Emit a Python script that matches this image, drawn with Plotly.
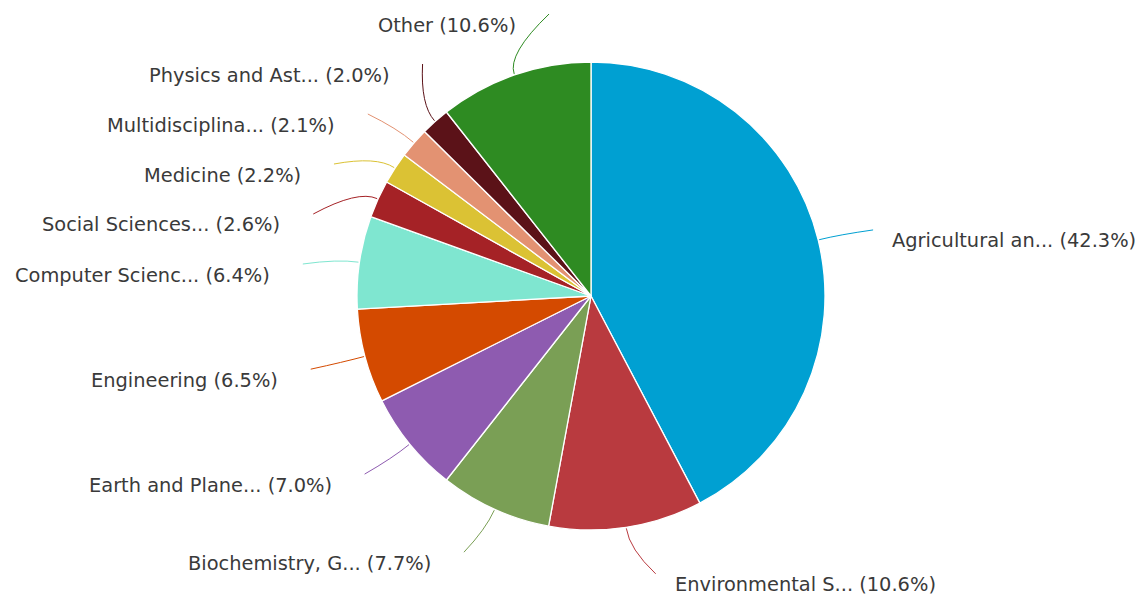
import math
import plotly.graph_objects as go

# ---- data ----
labels = [
    "Agricultural an...",
    "Environmental S...",
    "Biochemistry, G...",
    "Earth and Plane...",
    "Engineering",
    "Computer Scienc...",
    "Social Sciences...",
    "Medicine",
    "Multidisciplina...",
    "Physics and Ast...",
    "Other",
]
shares = [42.3, 10.6, 7.7, 7.0, 6.5, 6.4, 2.6, 2.2, 2.1, 2.0, 10.6]
colors = [
    "#00a0d2", "#b93a3f", "#7a9f55", "#8e5bb0", "#d44a00", "#7fe6d0",
    "#a52226", "#dbc234", "#e39272", "#5b1218", "#2e8b22",
]

# ---- geometry / style (screen pixels) ----
W, H = 1143, 602
OFF = 8          # page body margin
CX, CY, R = 591, 296, 234
R_NAT = 280      # radius used for the natural label height
A_CON, B_CON = 290, 285   # ellipse where connectors end
TEXT_DY = 11     # text centre below connector end
SPACING = 50     # min vertical distance between labels
GAP_L, GAP_R = 31, 17
FONT = dict(family="DejaVu Sans, Verdana, sans-serif", size=19.4, color="#3a3a3a")


def px2paper(x, y):
    return (x - OFF) / W, 1 - (y - OFF) / H


total = sum(shares)
mids = []
acc = 0.0
for v in shares:
    mids.append((acc + v / 2) / total * 360.0)
    acc += v


def pt(r, deg):
    a = math.radians(deg)
    return CX + r * math.sin(a), CY - r * math.cos(a)


def distribute(idx, nat, ymin, ymax):
    order = sorted(idx, key=lambda i: nat[i])
    clusters = []
    for i in order:
        cur = [[i], nat[i]]
        while clusters:
            prev = clusters[-1]
            if prev[1] + SPACING * len(prev[0]) > cur[1]:
                clusters.pop()
                members = prev[0] + cur[0]
                start = sum(nat[j] - SPACING * k for k, j in enumerate(members)) / len(members)
                start = max(start, ymin)
                start = min(start, ymax - SPACING * (len(members) - 1))
                cur = [members, start]
            else:
                break
        clusters.append(cur)
    pos = {}
    for members, start in clusters:
        for k, j in enumerate(members):
            pos[j] = start + SPACING * k
    return pos


natural = {i: CY - R_NAT * math.cos(math.radians(m)) + 12 for i, m in enumerate(mids)}
right = [i for i, m in enumerate(mids) if math.sin(math.radians(m)) >= 0]
left = [i for i, m in enumerate(mids) if math.sin(math.radians(m)) < 0]
ypos = {}
ypos.update(distribute(right, natural, 25, H - 15))
ypos.update(distribute(left, natural, 25, H - 15))

d0 = px2paper(CX - R, CY + R)
d1 = px2paper(CX + R, CY - R)

fig = go.Figure()
fig.add_trace(go.Pie(
    labels=labels,
    values=shares,
    marker=dict(colors=colors, line=dict(color="white", width=1.3)),
    sort=False,
    direction="clockwise",
    rotation=0,
    textinfo="none",
    hoverinfo="label+percent",
    domain=dict(x=[d0[0], d1[0]], y=[d0[1], d1[1]]),
    showlegend=False,
))

shapes = []
annotations = []
for i, m in enumerate(mids):
    is_right = i in right
    ty = ypos[i]
    ay = ty - TEXT_DY
    dy = ay - CY
    dx = A_CON * math.sqrt(max(1 - (dy / B_CON) ** 2, 0.0))
    ax = CX + dx if is_right else CX - dx
    sx, sy = pt(R + 1, m)
    qx, qy = pt(R + 22, m)
    p0 = px2paper(sx, sy)
    p1 = px2paper(qx, qy)
    p2 = px2paper(ax, ay)
    shapes.append(dict(
        type="path", xref="paper", yref="paper",
        path=f"M {p0[0]},{p0[1]} Q {p1[0]},{p1[1]} {p2[0]},{p2[1]}",
        line=dict(color=colors[i], width=1),
    ))
    tx = ax + GAP_R if is_right else ax - GAP_L
    px_, py_ = px2paper(tx, ty)
    annotations.append(dict(
        x=px_, y=py_, xref="paper", yref="paper",
        text=f"{labels[i]} ({shares[i]:.1f}%)",
        showarrow=False,
        xanchor="left" if is_right else "right",
        yanchor="middle",
        font=FONT,
    ))

fig.update_layout(
    width=W, height=H,
    margin=dict(l=0, r=0, t=0, b=0),
    paper_bgcolor="white",
    plot_bgcolor="white",
    shapes=shapes,
    annotations=annotations,
    showlegend=False,
)

fig.write_html("out.html")
